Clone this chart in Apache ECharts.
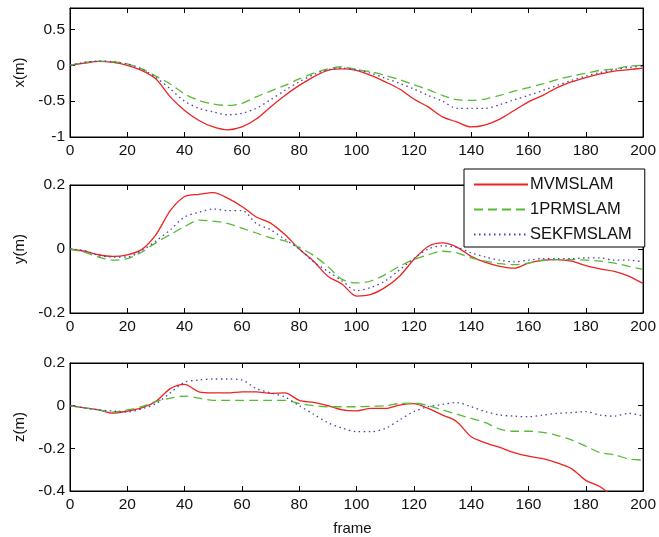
<!DOCTYPE html>
<html>
<head>
<meta charset="utf-8">
<script src="https://cdn.jsdelivr.net/npm/echarts@6/dist/echarts.min.js"></script>
<style>html,body{margin:0;padding:0;background:#fff;}#c{width:659px;height:537px;}</style>
</head>
<body>
<div id="c"></div>
<script>
const frames = [0,5,10,15,20,25,30,35,40,45,50,55,60,65,70,75,80,85,90,95,100,105,110,115,120,125,130,135,140,145,150,155,160,165,170,175,180,185,190,195,200];
const xTicks = [0,20,40,60,80,100,120,140,160,180,200];
const seriesNames = ['MVMSLAM','1PRMSLAM','SEKFMSLAM'];

// x(m)
const xMV  = [0,0.03,0.056,0.04,0,-0.07,-0.19,-0.44,-0.63,-0.77,-0.86,-0.9,-0.86,-0.75,-0.58,-0.42,-0.28,-0.16,-0.07,-0.05,-0.07,-0.14,-0.23,-0.33,-0.47,-0.58,-0.72,-0.79,-0.86,-0.83,-0.75,-0.63,-0.51,-0.42,-0.31,-0.23,-0.17,-0.12,-0.08,-0.06,-0.04];
const x1PR = [0,0.04,0.06,0.05,0.02,-0.05,-0.15,-0.26,-0.4,-0.49,-0.54,-0.56,-0.53,-0.44,-0.36,-0.28,-0.19,-0.11,-0.05,-0.02,-0.06,-0.09,-0.14,-0.2,-0.27,-0.34,-0.42,-0.48,-0.49,-0.47,-0.42,-0.36,-0.31,-0.26,-0.2,-0.15,-0.11,-0.07,-0.05,-0.01,0];
const xSEK = [0,0.04,0.06,0.05,0.02,-0.05,-0.17,-0.33,-0.5,-0.6,-0.65,-0.69,-0.67,-0.6,-0.48,-0.35,-0.23,-0.13,-0.06,-0.04,-0.06,-0.11,-0.18,-0.25,-0.33,-0.42,-0.5,-0.6,-0.6,-0.6,-0.55,-0.48,-0.42,-0.35,-0.28,-0.21,-0.15,-0.1,-0.06,-0.03,-0.01];

// y(m)
const yMV  = [0,-0.007,-0.018,-0.023,-0.018,-0.002,0.045,0.12,0.164,0.171,0.176,0.159,0.133,0.1,0.081,0.045,0,-0.038,-0.085,-0.11,-0.147,-0.142,-0.12,-0.085,-0.033,0.008,0.019,0.006,-0.023,-0.042,-0.054,-0.06,-0.044,-0.035,-0.033,-0.038,-0.052,-0.062,-0.07,-0.085,-0.108];
const y1PR = [0,-0.01,-0.025,-0.035,-0.03,-0.01,0.02,0.045,0.07,0.09,0.087,0.08,0.065,0.05,0.035,0.025,0.005,-0.02,-0.055,-0.095,-0.106,-0.1,-0.08,-0.054,-0.033,-0.018,-0.007,-0.012,-0.028,-0.038,-0.046,-0.049,-0.044,-0.036,-0.033,-0.033,-0.035,-0.038,-0.044,-0.054,-0.064];
const ySEK = [0,-0.005,-0.02,-0.025,-0.025,-0.005,0.025,0.06,0.1,0.115,0.125,0.12,0.12,0.08,0.06,0.03,0,-0.04,-0.07,-0.1,-0.13,-0.12,-0.1,-0.065,-0.03,0,0.01,0.005,-0.012,-0.025,-0.035,-0.04,-0.035,-0.03,-0.03,-0.03,-0.028,-0.028,-0.035,-0.035,-0.04];

// z(m)
const zMV  = [0,-0.01,-0.02,-0.035,-0.025,-0.01,0.02,0.08,0.1,0.065,0.06,0.06,0.065,0.065,0.058,0.06,0.025,0.015,0,-0.02,-0.024,-0.013,-0.013,0.003,0.01,-0.013,-0.044,-0.075,-0.146,-0.174,-0.196,-0.22,-0.237,-0.248,-0.268,-0.295,-0.35,-0.38,-0.43,-0.46,-0.49];
const z1PR = [0,-0.01,-0.02,-0.03,-0.02,-0.005,0.02,0.035,0.045,0.035,0.025,0.025,0.025,0.025,0.025,0.025,0.01,0,-0.005,-0.005,-0.005,-0.003,0,0.01,0.012,0,-0.02,-0.04,-0.06,-0.08,-0.11,-0.12,-0.12,-0.125,-0.14,-0.16,-0.19,-0.22,-0.23,-0.25,-0.255];
const zSEK = [0,-0.01,-0.02,-0.025,-0.03,-0.015,0.01,0.06,0.11,0.12,0.125,0.125,0.12,0.08,0.06,0.04,0,-0.04,-0.08,-0.105,-0.122,-0.122,-0.107,-0.067,-0.028,-0.005,0.006,0.014,-0.005,-0.028,-0.044,-0.049,-0.052,-0.044,-0.036,-0.033,-0.028,-0.044,-0.049,-0.036,-0.049];

const panels = [
  {name:'x(m)', min:-1, max:0.8, interval:0.5, data:[xMV,x1PR,xSEK], top:8, height:129},
  {name:'y(m)', min:-0.2, max:0.2, interval:0.2, data:[yMV,y1PR,ySEK], top:185, height:128},
  {name:'z(m)', min:-0.4, max:0.2, interval:0.2, data:[zMV,z1PR,zSEK], top:363, height:128}
];

const colors = ['#ee2222','#55bb33','#4444aa'];
const dash = ['solid',[9,5],[1.5,3.5]];
const font = 'Liberation Sans, Arial, sans-serif';

const grid=[], xAxis=[], yAxis=[], series=[];
panels.forEach((p,i)=>{
  grid.push({left:70, right:15, top:p.top, height:p.height, show:true, borderColor:'#000', borderWidth:1, backgroundColor:'#fff'});
  const xBase = {type:'value', gridIndex:i, min:0, max:200, interval:20,
    axisLine:{show:true, onZero:false, lineStyle:{color:'#000'}},
    axisTick:{show:true, inside:true, length:5, lineStyle:{color:'#000'}},
    splitLine:{show:false}};
  xAxis.push(Object.assign({}, xBase, {position:'bottom',
    axisLabel:{color:'#111', fontSize:15.5, fontFamily:font, margin:6},
    name: i===2 ? 'frame' : '', nameLocation:'middle', nameGap:30,
    nameTextStyle:{color:'#111', fontSize:15, fontFamily:font, padding:[0,8,0,0]}}));
  xAxis.push(Object.assign({}, xBase, {position:'top', axisLabel:{show:false}}));
  const yBase = {type:'value', gridIndex:i, min:p.min, max:p.max, interval:p.interval,
    axisLine:{show:true, onZero:false, lineStyle:{color:'#000'}},
    axisTick:{show:true, inside:true, length:5, lineStyle:{color:'#000'}},
    splitLine:{show:false}};
  yAxis.push(Object.assign({}, yBase, {position:'left',
    axisLabel:{color:'#111', fontSize:15.5, fontFamily:font, margin:5,
      formatter: v => (i===0 && Math.abs(v-0.8)<1e-9) ? '' : String(Math.round(v*10)/10)},
    name:p.name, nameLocation:'middle', nameGap:42, nameRotate:90,
    nameTextStyle:{color:'#111', fontSize:15, fontFamily:font}}));
  yAxis.push(Object.assign({}, yBase, {position:'right', axisLabel:{show:false}}));
  p.data.forEach((d,k)=>{
    series.push({name:seriesNames[k], type:'line', xAxisIndex:2*i, yAxisIndex:2*i,
      data: frames.map((f,j)=>[f,d[j]]), symbol:'none', smooth:0.3,
      lineStyle:{color:colors[k], width:1.3, type:dash[k]}, itemStyle:{color:colors[k]},
      clip:true, silent:true, animation:false, z:2});
  });
});

const chart = echarts.init(document.getElementById('c'), null, {renderer:'canvas'});
chart.setOption({
  animation:false,
  backgroundColor:'#fff',
  grid, xAxis, yAxis, series,
  legend:{
    data:seriesNames, orient:'vertical', left:464, top:169,
    itemWidth:54, itemHeight:16, itemGap:8,
    padding:[7,13,4,9],
    backgroundColor:'#fff', borderColor:'#000', borderWidth:1,
    itemStyle:{opacity:0},
    textStyle:{color:'#111', fontSize:16.5, fontFamily:font, lineHeight:16, padding:[0,0,0,-3]},
    z:10
  }
});
</script>
</body>
</html>
